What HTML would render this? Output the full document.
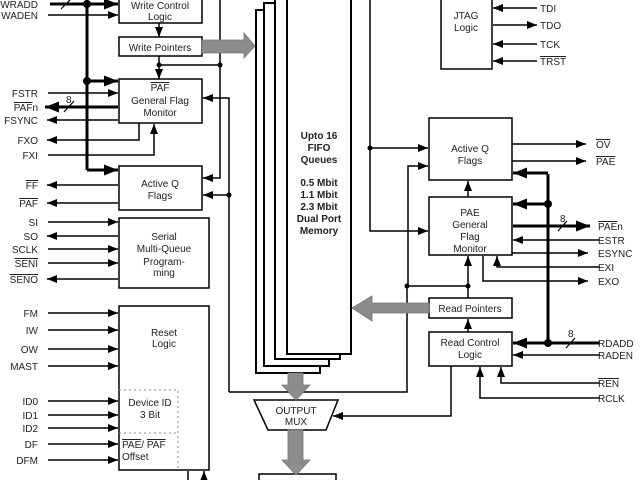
<!DOCTYPE html>
<html><head><meta charset="utf-8"><style>
html,body{margin:0;padding:0;background:#fff;}
svg{display:block;}
text{font-family:"Liberation Sans",Arial,sans-serif;font-size:10px;fill:#222;}
.o{text-decoration:overline;}
</style></head><body>
<svg width="640" height="480" viewBox="0 0 640 480" xmlns="http://www.w3.org/2000/svg">
<defs>
<marker id="a" markerUnits="userSpaceOnUse" markerWidth="10" markerHeight="8" refX="10" refY="4" orient="auto"><path d="M0,0L10,4L0,8z" fill="#000"/></marker>
<marker id="b" markerUnits="userSpaceOnUse" markerWidth="14" markerHeight="11" refX="14" refY="5.5" orient="auto"><path d="M0,0L14,5.5L0,11z" fill="#000"/></marker>
</defs>
<g fill="none" stroke="#000" stroke-width="1.5">
<rect x="256" y="10" width="64" height="363" fill="#fff" stroke-width="2"/>
<rect x="264" y="3" width="65" height="363" fill="#fff" stroke-width="2"/>
<rect x="275" y="-5" width="65" height="364" fill="#fff" stroke-width="2"/>
<rect x="287" y="-10" width="64" height="364" fill="#fff" stroke-width="2"/>
<rect x="119" y="-5" width="83" height="28"/>
<rect x="119" y="37" width="83" height="19"/>
<rect x="119" y="79" width="83" height="44"/>
<rect x="119" y="166" width="83" height="44"/>
<rect x="119" y="218" width="90" height="70"/>
<rect x="119" y="306" width="90" height="164"/>
<path d="M119,390H178V470M119,433H178" stroke-dasharray="2,3" stroke="#888" stroke-width="1"/>
<rect x="441" y="-5" width="51" height="74"/>
<rect x="429" y="118" width="83" height="62"/>
<rect x="429" y="197" width="83" height="58"/>
<rect x="429" y="298" width="83" height="20"/>
<rect x="429" y="332" width="83" height="34"/>
<rect x="259" y="474" width="77" height="10"/>
<path d="M254,400H338L326,430H268Z" fill="#fff"/>
<path d="M87,0V170" stroke-width="3"/>
<path d="M50,4H118" stroke-width="3" marker-end="url(#b)"/>
<path d="M87,81H118" stroke-width="3" marker-end="url(#b)"/>
<path d="M87,170H118" stroke-width="3" marker-end="url(#b)"/>
<path d="M118,107H45" stroke-width="3" marker-end="url(#b)"/>
<path d="M61,9L70,0M64,112L74,101" stroke-width="1.2"/>
<path d="M48,15H118" marker-end="url(#a)"/>
<path d="M48,93H118" marker-end="url(#a)"/>
<path d="M118,120H47" marker-end="url(#a)"/>
<path d="M139,123V140H47" marker-end="url(#a)"/>
<path d="M48,155H154V124" marker-end="url(#a)"/>
<path d="M118,185H47" marker-end="url(#a)"/>
<path d="M118,203H47" marker-end="url(#a)"/>
<path d="M48,222H118" marker-end="url(#a)"/>
<path d="M118,236H47" marker-end="url(#a)"/>
<path d="M48,249H118" marker-end="url(#a)"/>
<path d="M48,263H118" marker-end="url(#a)"/>
<path d="M118,279H47" marker-end="url(#a)"/>
<path d="M48,313H118" marker-end="url(#a)"/>
<path d="M48,330H118" marker-end="url(#a)"/>
<path d="M48,349H118" marker-end="url(#a)"/>
<path d="M48,366H118" marker-end="url(#a)"/>
<path d="M48,401H118" marker-end="url(#a)"/>
<path d="M48,415H118" marker-end="url(#a)"/>
<path d="M48,428H118" marker-end="url(#a)"/>
<path d="M48,444H118" marker-end="url(#a)"/>
<path d="M48,460H118" marker-end="url(#a)"/>
<path d="M188,480V471M204,480V471" marker-end="url(#a)"/>
<path d="M159,23V37" marker-end="url(#a)"/>
<path d="M159,56V79" marker-end="url(#a)"/>
<path d="M159,65H220"/>
<path d="M220,0V178H203" marker-end="url(#a)"/>
<path d="M229,392V98H203" marker-end="url(#a)"/>
<path d="M229,195H203" marker-end="url(#a)"/>
<path d="M229,392H407V286"/>
<path d="M370,0V231H428" marker-end="url(#a)"/>
<path d="M370,148H428" marker-end="url(#a)"/>
<path d="M408,286V166H428" marker-end="url(#a)"/>
<path d="M407,286H468"/>
<path d="M537,8H493" marker-end="url(#a)"/>
<path d="M493,25H537" marker-end="url(#a)"/>
<path d="M537,44H493" marker-end="url(#a)"/>
<path d="M537,61H493" marker-end="url(#a)"/>
<path d="M512,144H586" marker-end="url(#a)"/>
<path d="M512,161H586" marker-end="url(#a)"/>
<path d="M548,174V343" stroke-width="3"/>
<path d="M548,173H513" stroke-width="3" marker-end="url(#b)"/>
<path d="M548,204H513" stroke-width="3" marker-end="url(#b)"/>
<path d="M513,226H590" stroke-width="3" marker-end="url(#b)"/>
<path d="M600,343H513" stroke-width="3" marker-end="url(#b)"/>
<path d="M558,231L567,221M566,348L575,338" stroke-width="1.2"/>
<path d="M600,240H513" marker-end="url(#a)"/>
<path d="M512,253H588" marker-end="url(#a)"/>
<path d="M600,267H497V256" marker-end="url(#a)"/>
<path d="M483,256V281H588" marker-end="url(#a)"/>
<path d="M468,197V181" marker-end="url(#a)"/>
<path d="M468,298V256" marker-end="url(#a)"/>
<path d="M468,332V319" marker-end="url(#a)"/>
<path d="M600,355H513" marker-end="url(#a)"/>
<path d="M600,383H501V367" marker-end="url(#a)"/>
<path d="M600,398H480V367" marker-end="url(#a)"/>
<path d="M451,366V416H333" marker-end="url(#a)"/>
</g>
<g fill="#000">
<circle cx="87" cy="4" r="4"/><circle cx="87" cy="81" r="4"/>
<circle cx="159" cy="65" r="2.5"/><circle cx="220" cy="65" r="2.5"/>
<circle cx="229" cy="195" r="2.5"/>
<circle cx="370" cy="148" r="2.5"/><circle cx="407" cy="286" r="2.5"/><circle cx="468" cy="286" r="2.5"/>
<circle cx="548" cy="204" r="4"/><circle cx="548" cy="343" r="4"/>
</g>
<g fill="#8c8c8c" stroke="#777" stroke-width="0.8">
<path d="M202,40H244V33L255,46L244,58V53H202Z"/>
<path d="M429,303H372V296L352,308L372,321V313H429Z"/>
<path d="M288,373H303V385H310L296,400L282,385H288Z"/>
<path d="M288,430H303V460H310L296,475L282,460H288Z"/>
</g>
<g text-anchor="end">
<text x="38" y="8">WRADD</text><text x="38" y="19">WADEN</text>
<text x="38" y="97">FSTR</text><text x="38" y="111"><tspan class="o">PAF</tspan>n</text>
<text x="38" y="124">FSYNC</text><text x="38" y="144">FXO</text><text x="38" y="159">FXI</text>
<text x="38" y="189" class="o">FF</text><text x="38" y="207" class="o">PAF</text>
<text x="38" y="226">SI</text><text x="38" y="240">SO</text><text x="38" y="253">SCLK</text>
<text x="38" y="267" class="o">SENI</text><text x="38" y="283" class="o">SENO</text>
<text x="38" y="317">FM</text><text x="38" y="334">IW</text><text x="38" y="353">OW</text>
<text x="38" y="370">MAST</text><text x="38" y="405">ID0</text><text x="38" y="419">ID1</text>
<text x="38" y="432">ID2</text><text x="38" y="448">DF</text><text x="38" y="464">DFM</text>
</g>
<text x="66" y="103">8</text>
<g text-anchor="middle">
<text x="160" y="9">Write Control</text><text x="160" y="20">Logic</text>
<text x="160" y="51">Write Pointers</text>
<text x="160" y="91" class="o">PAF</text><text x="160" y="104">General Flag</text><text x="160" y="116">Monitor</text>
<text x="160" y="187">Active Q</text><text x="160" y="199">Flags</text>
<text x="164" y="240">Serial</text><text x="164" y="252">Multi-Queue</text><text x="164" y="265">Program-</text><text x="164" y="276">ming</text>
<text x="164" y="336">Reset</text><text x="164" y="347">Logic</text>
<text x="150" y="406">Device ID</text><text x="150" y="418">3 Bit</text>
<text x="466" y="19">JTAG</text><text x="466" y="31">Logic</text>
<text x="470" y="152">Active Q</text><text x="470" y="164">Flags</text>
<text x="470" y="216">PAE</text><text x="470" y="228">General</text><text x="470" y="240">Flag</text><text x="470" y="252">Monitor</text>
<text x="470" y="312">Read Pointers</text>
<text x="470" y="346">Read Control</text><text x="470" y="358">Logic</text>
<text x="296" y="414">OUTPUT</text><text x="296" y="425">MUX</text>
<g style="font-weight:bold;font-size:9.5px">
<text x="319" y="139">Upto 16</text><text x="319" y="151">FIFO</text><text x="319" y="163">Queues</text>
<text x="319" y="186">0.5 Mbit</text><text x="319" y="198">1.1 Mbit</text><text x="319" y="210">2.3 Mbit</text>
<text x="319" y="222">Dual Port</text><text x="319" y="234">Memory</text>
</g>
</g>
<text x="122" y="448"><tspan class="o">PAE</tspan>/ <tspan class="o">PAF</tspan></text>
<text x="122" y="460">Offset</text>
<text x="540" y="12">TDI</text><text x="540" y="29">TDO</text><text x="540" y="48">TCK</text><text x="540" y="65" class="o">TRST</text>
<text x="596" y="148" class="o">OV</text><text x="596" y="165" class="o">PAE</text>
<text x="598" y="230"><tspan class="o">PAE</tspan>n</text><text x="598" y="244">ESTR</text>
<text x="598" y="257">ESYNC</text><text x="598" y="271">EXI</text><text x="598" y="285">EXO</text>
<text x="598" y="347">RDADD</text><text x="598" y="359">RADEN</text>
<text x="598" y="387" class="o">REN</text><text x="598" y="402">RCLK</text>
<text x="560" y="222">8</text><text x="568" y="337">8</text>
</svg>
</body></html>
